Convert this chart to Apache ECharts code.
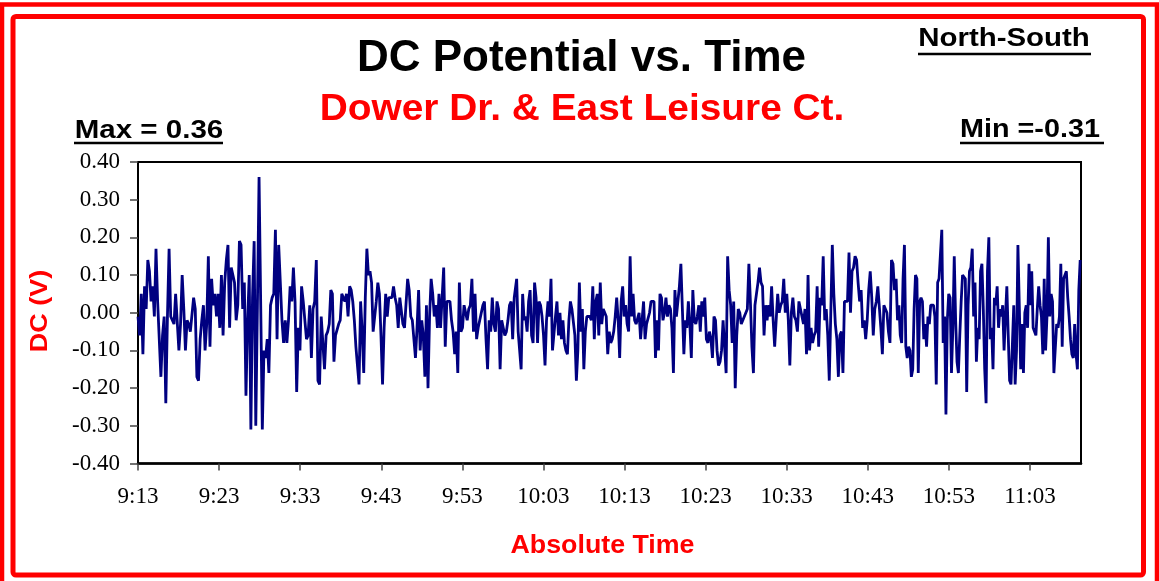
<!DOCTYPE html>
<html><head><meta charset="utf-8">
<script src="https://cdn.jsdelivr.net/npm/echarts@6.0.0/dist/echarts.min.js"></script>
<style>html,body{margin:0;padding:0;background:#fff}#c{width:1159px;height:581px}</style>
</head><body><div id="c"></div>
<script>
// Time axis: minutes after 9:13
const startHour = 9, startMinute = 13;
const tickMinutes = [0,10,20,30,40,50,60,70,80,90,100,110];
const yTicks = [-0.4,-0.3,-0.2,-0.1,0,0.1,0.2,0.3,0.4];

// DC potential (V) in five consecutive stretches
const seg1 = [-0.01,-0.06,0.05,-0.11,0.07,0.01,0.14,0.11,0.03,0.07,
-0.01,0.17,0.03,0.03,-0.17,-0.06,-0.01,-0.24,-0.01,0.17,
-0.01,-0.01,-0.03,0.05,0.05,-0.10,-0.03,0.10,0.01,-0.10,
-0.02,-0.03,-0.05,-0.05,0.04,0.01,-0.17,-0.18,-0.07,-0.02,
0.02,-0.10,-0.03,0.15,-0.09,0.09,0.02,0.05,-0.01,0.05,
-0.04,0.10,-0.06,0.08,0.14,0.18,-0.04,0.12,0.10,0.08,
-0.02,0.02,0.19,0.18,0.01,0.08,-0.22,-0.02,0.10,-0.31,
0.04,0.19,-0.30,0.02,0.36,0.36,-0.31,-0.10,-0.12,-0.07,
-0.16,0.02,0.04,0.05,0.22,-0.07,0.18,0.18,-0.02,-0.08,
-0.02,-0.08,-0.02,0.07,0.03,0.12,0.03,-0.21,-0.04,-0.10,
0.07,0.03,0.03,-0.07,-0.06,0.02,-0.12,0.01,0.03,0.14,
-0.18,-0.19,-0.01,-0.01,-0.15];
const seg2 = [-0.06,-0.05,-0.03,0.06,0.05,-0.13,-0.06,-0.06,-0.03,-0.02,
0.05,0.04,0.03,0.05,-0.01,0.07,0.06,0.03,-0.02,-0.09,
-0.14,-0.19,0.03,-0.05,-0.16,0.04,0.17,0.10,0.11,0.08,
-0.05,-0.05,0.03,0.08,0.05,-0.06,-0.19,-0.04,0.05,-0.01,
0.04,0.04,0.04,0.07,0.04,0.02,-0.04,0.04,0.04,-0.03,
-0.04,-0.04,0.09,0.06,-0.01,-0.02,-0.07,-0.12,-0.04,0.06,
-0.10,-0.02,-0.06,-0.17,0.02,-0.20,-0.01,0.09,0.05,-0.01,
0.02,-0.04,0.05,-0.04,0.04,0.12,-0.09,0.03,0.03,0.03,
-0.02,-0.05,-0.11,-0.05,-0.16,0.08,-0.05,-0.04,0.02,0.02,
-0.02,0.01,0.02,0.09,-0.05,0.05,-0.07,-0.04,-0.02,-0.02,
0.02,0.03,-0.07,-0.15,-0.02,-0.05,0.04,-0.03,-0.05,0.03,
0.01,-0.15,-0.02,-0.02,-0.06,-0.05,-0.02,0.02,0.03,-0.07,
0.04];
const seg3 = [0.09,-0.05,-0.10,-0.15,0.05,-0.02,-0.01,-0.05,0.03,0.06,
-0.06,-0.08,0.08,0.04,-0.08,0.03,0.02,-0.01,-0.06,-0.14,
-0.02,0.03,-0.01,0.09,-0.10,-0.10,-0.01,0.03,-0.06,0.00,
-0.07,-0.02,-0.08,-0.10,-0.11,-0.02,0.03,0.01,0.01,-0.06,
-0.18,-0.10,0.08,-0.05,0.01,-0.15,-0.05,-0.01,-0.01,-0.01,
-0.02,0.07,-0.07,0.03,0.05,-0.06,0.08,-0.03,0.01,0.01,
-0.01,-0.11,-0.05,-0.08,-0.07,-0.05,-0.01,0.04,-0.02,-0.12,
0.03,0.07,-0.01,0.02,-0.03,-0.05,0.15,-0.01,0.05,-0.02,
-0.03,-0.03,0.00,-0.07,-0.07,0.03,-0.07,-0.03,-0.03,0.00,
0.03,0.03,0.03,-0.12,-0.02,-0.10,0.05,0.04,-0.02,0.00,
0.04,-0.01,0.02,0.01,-0.04,-0.16,0.06,-0.01,0.03,0.07,
0.13,0.01,-0.11,-0.02,-0.04,0.03,-0.03,-0.12,0.06,-0.02,
-0.03,-0.01,0.02,-0.05,0.03,-0.01,0.04];
const seg4 = [-0.07,-0.08,-0.05,-0.07,-0.12,-0.01,-0.02,-0.10,-0.14,-0.13,
-0.10,-0.02,-0.02,-0.16,0.15,0.06,0.02,-0.08,0.03,-0.20,
-0.06,0.01,0.00,-0.03,-0.03,-0.01,-0.01,0.01,0.13,0.03,
-0.09,-0.16,0.02,0.05,0.08,0.12,0.08,0.07,-0.06,0.02,
-0.02,0.02,-0.01,0.07,-0.02,-0.09,-0.02,0.05,0.00,0.02,
0.03,0.09,0.00,0.05,-0.02,-0.14,0.00,0.04,-0.01,-0.02,
-0.05,0.03,0.01,-0.01,-0.03,0.01,-0.11,0.10,-0.10,-0.04,
-0.08,-0.06,-0.05,0.07,-0.09,0.04,0.02,0.15,-0.02,0.01,
-0.06,-0.18,0.00,0.18,0.05,-0.03,-0.07,-0.17,-0.06,-0.05,
-0.16,0.03,0.03,0.03,0.16,0.00,0.11,0.12,0.15,0.14,
0.08,0.03,0.06,-0.04,-0.02,-0.07,-0.02,0.06,0.11,0.04,
-0.06,0.01,0.03,0.07,0.07,-0.04,-0.11,0.02,0.01,0.00,
-0.05,-0.08,0.14,0.13,0.06];
const seg5 = [0.09,-0.02,0.02,-0.06,-0.08,0.09,0.18,-0.09,-0.12,-0.09,
-0.10,-0.17,-0.15,0.01,0.10,0.09,-0.16,0.03,0.04,0.03,
-0.07,-0.03,-0.09,-0.01,-0.03,0.02,0.02,0.02,-0.01,-0.19,
0.08,0.09,0.09,0.22,-0.08,-0.01,-0.27,-0.02,0.05,0.04,
-0.16,-0.04,0.15,-0.02,-0.13,-0.16,-0.06,0.03,0.10,0.10,
0.09,-0.21,0.02,0.11,0.12,0.17,-0.01,0.08,-0.13,-0.04,
-0.07,0.11,0.13,0.01,-0.15,-0.24,0.11,0.20,-0.07,-0.04,
-0.15,0.04,0.02,0.07,-0.04,0.01,-0.01,0.02,-0.10,-0.01,
0.07,-0.06,-0.18,-0.19,-0.19,0.02,-0.19,-0.10,0.18,0.02,
-0.15,-0.03,-0.16,0.00,0.02,-0.04,0.13,0.02,0.11,-0.04,
-0.05,-0.06,0.01,0.07,0.02,-0.01,-0.11,0.09,-0.10,-0.01,
0.20,-0.01,0.05,0.03,-0.16,-0.16,-0.03,-0.04,-0.01,0.13,
-0.09,0.09,0.10,0.11,0.04,-0.01,-0.07,-0.11,-0.12,-0.03,
-0.11,-0.15,0.06,0.14];
// first and last minute of each stretch
const segStart = [0, 23.2, 46.7, 70.1, 93.5];
const segEnd = [23.0, 46.4, 69.9, 93.3, 116.2];
const axisMaxMinute = 116.3;

const segments = [seg1, seg2, seg3, seg4, seg5];
const seriesData = [];
segments.forEach((vals, k) => {
  const n = vals.length;
  const step = (segEnd[k] - segStart[k]) / (n - 1);
  vals.forEach((v, i) => seriesData.push([segStart[k] + i * step, v]));
});

function clock(v) {
  const total = startMinute + Math.round(v);
  const h = startHour + Math.floor(total / 60);
  return h + ':' + String(total % 60).padStart(2, '0');
}

const SANS = "'Liberation Sans', Arial, Helvetica, sans-serif";
const SERIF = "'Liberation Serif', 'Times New Roman', serif";

function label(text, x, y, size, color, scaleX, rotation) {
  return {
    type: 'text', x: x, y: y, scaleX: scaleX || 1, scaleY: 1, rotation: rotation || 0, silent: true, z: 10,
    style: { text: text, fill: color, font: 'bold ' + size + 'px ' + SANS,
      align: 'center', verticalAlign: 'middle', textAlign: 'center', textVerticalAlign: 'middle' }
  };
}
function uline(x1, x2, y) {
  return { type: 'line', silent: true, z: 10, shape: { x1: x1, y1: y, x2: x2, y2: y },
    style: { stroke: '#000', lineWidth: 2.6 } };
}

const chart = echarts.init(document.getElementById('c'), null, { renderer: 'canvas' });
chart.setOption({
  backgroundColor: '#fff',
  animation: false,
  grid: { left: 138, top: 162, right: 78, bottom: 117.5, show: true, borderColor: '#000', borderWidth: 2, backgroundColor: '#fff' },
  xAxis: {
    type: 'value', min: 0, max: axisMaxMinute, interval: 10,
    axisLine: { show: true, onZero: false, lineStyle: { color: '#000', width: 2.6 } },
    axisTick: { show: true, length: 7, customValues: tickMinutes, lineStyle: { color: '#444', width: 1.5 } },
    axisLabel: { customValues: tickMinutes, margin: 22, color: '#000', fontFamily: SERIF, fontSize: 23,
      formatter: v => clock(v) },
    splitLine: { show: false }
  },
  yAxis: {
    type: 'value', min: yTicks[0], max: yTicks[yTicks.length - 1], interval: 0.1,
    axisLine: { show: true, onZero: false, lineStyle: { color: '#000', width: 2 } },
    axisTick: { show: true, length: 8, lineStyle: { color: '#444', width: 1.5 } },
    axisLabel: { margin: 18, color: '#000', fontFamily: SERIF, fontSize: 23,
      formatter: v => Number(v).toFixed(2) },
    splitLine: { show: false }
  },
  series: [{
    type: 'line', data: seriesData, showSymbol: false, symbol: 'none',
    lineStyle: { color: '#000080', width: 2.8 }, clip: true
  }],
  graphic: { elements: [
    { type: 'rect', silent: true, z: 20, shape: { x: 2, y: 4.5, width: 1155, height: 600 },
      style: { fill: 'none', stroke: '#ff0000', lineWidth: 4.5 } },
    { type: 'rect', silent: true, z: 20, shape: { x: 13, y: 16.5, width: 1130.5, height: 558.5, r: 3 },
      style: { fill: 'none', stroke: '#ff0000', lineWidth: 5 } },
    label('DC Potential vs. Time', 581.5, 59, 44, '#000', 1),
    label('Dower Dr. & East Leisure Ct.', 582, 110, 37, '#ff0000', 1.05),
    label('North-South', 1004, 39, 26.5, '#000', 1.11),
    uline(918, 1091, 54),
    label('Max = 0.36', 149, 131, 25, '#000', 1.18),
    uline(74, 223, 143),
    label('Min =-0.31', 1030, 130, 25, '#000', 1.15),
    uline(960, 1104, 143),
    label('Absolute Time', 602.5, 546, 26, '#ff0000', 1.03),
    label('DC (V)', 40, 311, 24.5, '#ff0000', 1.1, Math.PI / 2)
  ] }
});
</script>
</body></html>
